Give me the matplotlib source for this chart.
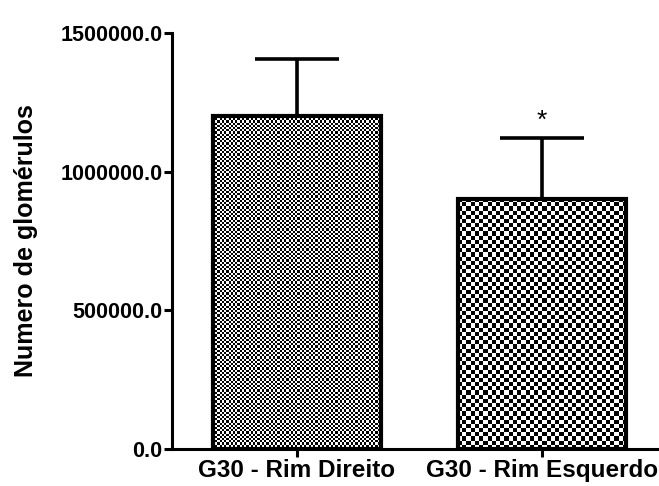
import numpy as np
import matplotlib
matplotlib.use("Agg")
import matplotlib.pyplot as plt

plt.rcParams["font.family"] = ["Liberation Sans", "DejaVu Sans"]
plt.rcParams["font.weight"] = "bold"

groups = ["G30 - Rim Direito", "G30 - Rim Esquerdo"]
means = [1200000.0, 902000.0]
errors = [206000.0, 219000.0]
signif = ["", "*"]
yticks = [0.0, 500000.0, 1000000.0, 1500000.0]

# checker cell size in pixels for each bar pattern
cell_px = [2.2, 4.2]

fig = plt.figure(figsize=(6.59, 4.86), dpi=100)
ax = fig.add_axes([0.261, 0.0761, 0.739, 0.856])

x = np.arange(len(groups))
bars = ax.bar(x, means, width=0.686, facecolor="none", edgecolor="black",
              linewidth=3.0, zorder=3)
ax.errorbar(x, means, yerr=[[0] * len(errors), errors], fmt="none",
            ecolor="black", elinewidth=2.6, capsize=30.5, capthick=2.6, zorder=2)

ax.set_xlim(-0.51, 1.478)
ax.set_ylim(0, 1500000)

# checkerboard fill, clipped to each bar
fig.canvas.draw()
for bar, cp in zip(bars, cell_px):
    bb = bar.get_window_extent()
    nx = max(2, int(round(bb.width / cp)))
    ny = max(2, int(round(bb.height / cp)))
    ii, jj = np.indices((ny, nx))
    board = ((ii + jj) % 2).astype(float)
    x0, w = bar.get_x(), bar.get_width()
    im = ax.imshow(board, cmap="gray", vmin=0, vmax=1, interpolation="nearest",
                   extent=[x0, x0 + w, 0, bar.get_height()], aspect="auto", zorder=2.5)
    im.set_clip_path(bar)
ax.set_aspect("auto")
ax.set_xlim(-0.51, 1.478)
ax.set_ylim(0, 1500000)

for xi, m, e, s in zip(x, means, errors, signif):
    if s:
        ax.annotate(s, (xi, m + e), xytext=(0, 4), textcoords="offset points",
                    ha="center", va="bottom", fontsize=19, fontweight="normal")

ax.set_yticks(yticks)
ax.set_yticklabels([f"{v:.1f}" for v in yticks], fontsize=15.5, fontweight="bold")
ax.set_xticks(x)
ax.set_xticklabels(groups, fontsize=17.5, fontweight="bold")
ax.set_ylabel("Numero de glomérulos", fontsize=18, fontweight="bold", labelpad=16)

for side in ["top", "right"]:
    ax.spines[side].set_visible(False)
for side in ["left", "bottom"]:
    ax.spines[side].set_linewidth(2.2)
ax.tick_params(axis="both", width=2.2, length=6, color="black")
ax.tick_params(axis="y", pad=1)
ax.tick_params(axis="x", pad=1)

fig.savefig("out.png", dpi=100)
